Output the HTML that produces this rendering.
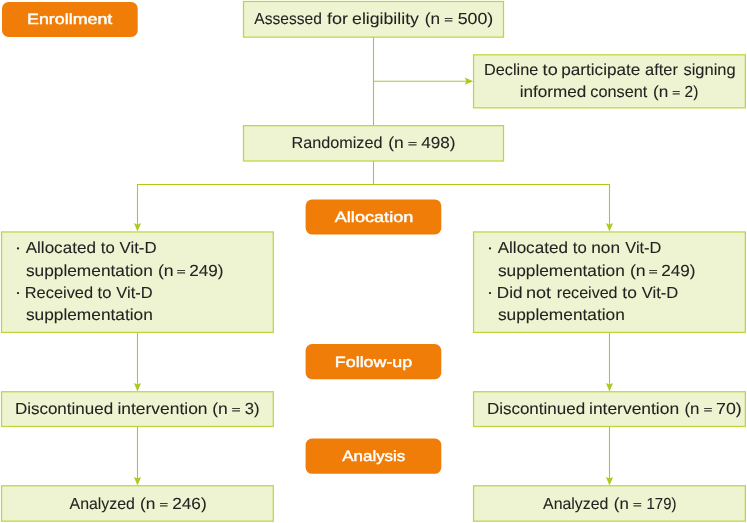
<!DOCTYPE html>
<html lang="en"><head><meta charset="utf-8"><title>CONSORT flow diagram</title>
<style>html,body{margin:0;padding:0;background:#fff}body{width:747px;height:523px;overflow:hidden;font-family:"Liberation Sans",sans-serif}svg{display:block}text{font-family:"Liberation Sans",sans-serif;white-space:pre;text-rendering:geometricPrecision}</style></head><body>
<svg width="747" height="523" viewBox="0 0 747 523">
<defs><filter id="g" x="0" y="0" width="747" height="523" filterUnits="userSpaceOnUse"><feOffset dx="0" dy="0"/></filter></defs>
<rect width="747" height="523" fill="#ffffff"/>
<g fill="none" stroke="#a9cb1c" stroke-width="1.1">
<path d="M373.5 37V125.5"/>
<path d="M373.5 81.2H468"/>
<path d="M373.5 161V184.5"/>
<path d="M137.5 226V184.5H609.5V226"/>
<path d="M137.5 332.5V386"/><path d="M137.5 426.5V480"/>
<path d="M609.5 332.5V386"/><path d="M609.5 426.5V480"/>
</g>
<g fill="#a9cb1c" stroke="none">
<polygon points="464.7,77.6 466.4,81.2 464.7,84.8 473.2,81.2"/>
<polygon points="133.9,223.1 137.5,224.8 141.1,223.1 137.5,231.6"/>
<polygon points="133.9,382.9 137.5,384.6 141.1,382.9 137.5,391.4"/>
<polygon points="133.9,476.9 137.5,478.6 141.1,476.9 137.5,485.4"/>
<polygon points="605.9,223.1 609.5,224.8 613.1,223.1 609.5,231.6"/>
<polygon points="605.9,382.9 609.5,384.6 613.1,382.9 609.5,391.4"/>
<polygon points="605.9,476.9 609.5,478.6 613.1,476.9 609.5,485.4"/>
</g>
<g fill="#eef4d1" stroke="#bbd73e" stroke-width="1.25">
<rect x="243.5" y="1.5" width="260.00" height="35.65"/>
<rect x="473.55" y="54.8" width="271.80" height="53.05"/>
<rect x="243.5" y="125.65" width="260.00" height="35.35"/>
<rect x="1.55" y="231.95" width="271.75" height="100.45"/>
<rect x="473.55" y="231.95" width="271.80" height="100.45"/>
<rect x="1.55" y="391.75" width="271.75" height="34.70"/>
<rect x="473.55" y="391.75" width="271.80" height="34.70"/>
<rect x="1.55" y="485.75" width="271.75" height="35.40"/>
<rect x="473.55" y="485.75" width="271.80" height="35.40"/>
</g>
<g fill="#ef7d08">
<rect x="2.0" y="2.0" width="135.7" height="35.0" rx="6.5" ry="6.5"/>
<rect x="305.6" y="199.4" width="135.7" height="35.1" rx="6.5" ry="6.5"/>
<rect x="305.6" y="344.0" width="135.7" height="35.2" rx="6.5" ry="6.5"/>
<rect x="305.6" y="438.5" width="135.7" height="35.3" rx="6.5" ry="6.5"/>
</g>
<g fill="#ffffff" stroke="#ffffff" stroke-width="0.45" stroke-linejoin="round" font-size="14.8" filter="url(#g)">
<text x="27.04" y="23.7" textLength="85.29" lengthAdjust="spacingAndGlyphs">Enrollment</text>
<text x="334.76" y="222.1" textLength="78.61" lengthAdjust="spacingAndGlyphs">Allocation</text>
<text x="334.84" y="366.6" textLength="77.41" lengthAdjust="spacingAndGlyphs">Follow-up</text>
<text x="342.27" y="461.2" textLength="63.04" lengthAdjust="spacingAndGlyphs">Analysis</text>
</g>
<g fill="#242221" stroke="#242221" stroke-width="0.08" stroke-linejoin="round" font-size="16.0" filter="url(#g)">
<text><tspan x="254.37" y="24" textLength="67.53" lengthAdjust="spacingAndGlyphs">Assessed</tspan> <tspan x="327.04" y="24" textLength="21.06" lengthAdjust="spacingAndGlyphs">for</tspan> <tspan x="352.05" y="24" textLength="66.89" lengthAdjust="spacingAndGlyphs">eligibility</tspan> <tspan x="424.83" y="24" textLength="15.28" lengthAdjust="spacingAndGlyphs">(n</tspan> <tspan x="444.38" y="23" font-size="10" stroke-width="0.3" textLength="8.65" lengthAdjust="spacingAndGlyphs">=</tspan> <tspan x="457.69" y="24" textLength="35.62" lengthAdjust="spacingAndGlyphs">500)</tspan></text>
<text><tspan x="484.07" y="75" textLength="54.26" lengthAdjust="spacingAndGlyphs">Decline</tspan> <tspan x="542.63" y="75" textLength="15.03" lengthAdjust="spacingAndGlyphs">to</tspan> <tspan x="561.19" y="75" textLength="79.17" lengthAdjust="spacingAndGlyphs">participate</tspan> <tspan x="645.10" y="75" textLength="32.87" lengthAdjust="spacingAndGlyphs">after</tspan> <tspan x="683.44" y="75" textLength="52.22" lengthAdjust="spacingAndGlyphs">signing</tspan></text>
<text><tspan x="519.65" y="97" textLength="66.65" lengthAdjust="spacingAndGlyphs">informed</tspan> <tspan x="590.31" y="97" textLength="57.01" lengthAdjust="spacingAndGlyphs">consent</tspan> <tspan x="653.13" y="97" textLength="15.28" lengthAdjust="spacingAndGlyphs">(n</tspan> <tspan x="672.34" y="96" font-size="10" stroke-width="0.3" textLength="7.93" lengthAdjust="spacingAndGlyphs">=</tspan> <tspan x="684.62" y="97" textLength="13.73" lengthAdjust="spacingAndGlyphs">2)</tspan></text>
<text><tspan x="291.57" y="148" textLength="90.87" lengthAdjust="spacingAndGlyphs">Randomized</tspan> <tspan x="388.22" y="148" textLength="15.52" lengthAdjust="spacingAndGlyphs">(n</tspan> <tspan x="407.95" y="147" font-size="10" stroke-width="0.3" textLength="9.02" lengthAdjust="spacingAndGlyphs">=</tspan> <tspan x="421.21" y="148" textLength="34.25" lengthAdjust="spacingAndGlyphs">498)</tspan></text>
<text><tspan x="25.67" y="253" textLength="70.23" lengthAdjust="spacingAndGlyphs">Allocated</tspan> <tspan x="100.85" y="253" textLength="13.96" lengthAdjust="spacingAndGlyphs">to</tspan> <tspan x="119.53" y="253" textLength="37.08" lengthAdjust="spacingAndGlyphs">Vit-D</tspan></text>
<text><tspan x="25.92" y="276" textLength="126.90" lengthAdjust="spacingAndGlyphs">supplementation</tspan> <tspan x="157.90" y="276" textLength="15.75" lengthAdjust="spacingAndGlyphs">(n</tspan> <tspan x="176.86" y="275" font-size="10" stroke-width="0.3" textLength="8.89" lengthAdjust="spacingAndGlyphs">=</tspan> <tspan x="189.24" y="276" textLength="34.33" lengthAdjust="spacingAndGlyphs">249)</tspan></text>
<text><tspan x="24.76" y="298" textLength="68.30" lengthAdjust="spacingAndGlyphs">Received</tspan> <tspan x="97.55" y="298" textLength="13.85" lengthAdjust="spacingAndGlyphs">to</tspan> <tspan x="116.33" y="298" textLength="36.26" lengthAdjust="spacingAndGlyphs">Vit-D</tspan></text>
<text><tspan x="25.92" y="320" textLength="126.90" lengthAdjust="spacingAndGlyphs">supplementation</tspan></text>
<text><tspan x="497.67" y="253" textLength="70.23" lengthAdjust="spacingAndGlyphs">Allocated</tspan> <tspan x="572.85" y="253" textLength="13.96" lengthAdjust="spacingAndGlyphs">to</tspan> <tspan x="591.26" y="253" textLength="28.76" lengthAdjust="spacingAndGlyphs">non</tspan> <tspan x="625.33" y="253" textLength="36.05" lengthAdjust="spacingAndGlyphs">Vit-D</tspan></text>
<text><tspan x="497.92" y="276" textLength="126.90" lengthAdjust="spacingAndGlyphs">supplementation</tspan> <tspan x="629.90" y="276" textLength="15.75" lengthAdjust="spacingAndGlyphs">(n</tspan> <tspan x="648.86" y="275" font-size="10" stroke-width="0.3" textLength="8.89" lengthAdjust="spacingAndGlyphs">=</tspan> <tspan x="661.24" y="276" textLength="34.33" lengthAdjust="spacingAndGlyphs">249)</tspan></text>
<text><tspan x="496.89" y="298" textLength="25.71" lengthAdjust="spacingAndGlyphs">Did</tspan> <tspan x="525.90" y="298" textLength="25.13" lengthAdjust="spacingAndGlyphs">not</tspan> <tspan x="556.83" y="298" textLength="60.70" lengthAdjust="spacingAndGlyphs">received</tspan> <tspan x="622.34" y="298" textLength="14.49" lengthAdjust="spacingAndGlyphs">to</tspan> <tspan x="641.73" y="298" textLength="36.57" lengthAdjust="spacingAndGlyphs">Vit-D</tspan></text>
<text><tspan x="497.92" y="320" textLength="126.90" lengthAdjust="spacingAndGlyphs">supplementation</tspan></text>
<text><tspan x="14.91" y="414" textLength="98.19" lengthAdjust="spacingAndGlyphs">Discontinued</tspan> <tspan x="117.43" y="414" textLength="90.10" lengthAdjust="spacingAndGlyphs">intervention</tspan> <tspan x="212.32" y="414" textLength="15.52" lengthAdjust="spacingAndGlyphs">(n</tspan> <tspan x="231.87" y="413" font-size="10" stroke-width="0.3" textLength="8.77" lengthAdjust="spacingAndGlyphs">=</tspan> <tspan x="244.77" y="414" textLength="14.76" lengthAdjust="spacingAndGlyphs">3)</tspan></text>
<text><tspan x="486.91" y="414" textLength="98.19" lengthAdjust="spacingAndGlyphs">Discontinued</tspan> <tspan x="589.03" y="414" textLength="90.10" lengthAdjust="spacingAndGlyphs">intervention</tspan> <tspan x="684.45" y="414" textLength="15.05" lengthAdjust="spacingAndGlyphs">(n</tspan> <tspan x="703.79" y="413" font-size="10" stroke-width="0.3" textLength="8.53" lengthAdjust="spacingAndGlyphs">=</tspan> <tspan x="716.09" y="414" textLength="25.72" lengthAdjust="spacingAndGlyphs">70)</tspan></text>
<text><tspan x="69.57" y="509" textLength="65.35" lengthAdjust="spacingAndGlyphs">Analyzed</tspan> <tspan x="139.93" y="509" textLength="15.40" lengthAdjust="spacingAndGlyphs">(n</tspan> <tspan x="159.59" y="508" font-size="10" stroke-width="0.3" textLength="8.53" lengthAdjust="spacingAndGlyphs">=</tspan> <tspan x="172.23" y="509" textLength="34.43" lengthAdjust="spacingAndGlyphs">246)</tspan></text>
<text><tspan x="543.07" y="509" textLength="65.35" lengthAdjust="spacingAndGlyphs">Analyzed</tspan> <tspan x="613.86" y="509" textLength="14.93" lengthAdjust="spacingAndGlyphs">(n</tspan> <tspan x="633.07" y="508" font-size="10" stroke-width="0.3" textLength="8.77" lengthAdjust="spacingAndGlyphs">=</tspan> <tspan x="646.56" y="509" textLength="29.86" lengthAdjust="spacingAndGlyphs">179)</tspan></text>
<circle cx="18.0" cy="248.4" r="1.15" stroke="none"/>
<circle cx="18.0" cy="293.1" r="1.15" stroke="none"/>
<circle cx="490.0" cy="248.4" r="1.15" stroke="none"/>
<circle cx="490.0" cy="293.1" r="1.15" stroke="none"/>
</g>
</svg></body></html>
